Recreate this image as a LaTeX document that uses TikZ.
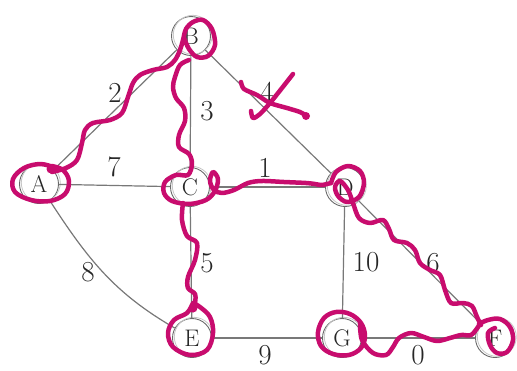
\documentclass[tikz,border=0pt]{standalone}
\begin{document}
\definecolor{edgegray}{RGB}{120,120,120}
\definecolor{ringgray}{RGB}{105,105,105}
\definecolor{ink}{RGB}{200,12,110}
\begin{tikzpicture}[x=1pt,y=-1pt,
  gnode/.style={circle,draw=ringgray,line width=0.9pt,minimum size=39pt,inner sep=0pt,
    font=\fontsize{24}{26}\selectfont,text=black!85},
  gedge/.style={draw=edgegray,line width=1.2pt},
  wlabel/.style={font=\fontsize{29}{31}\selectfont,text=black!85,inner sep=0pt},
  pen/.style={draw=ink,line width=4.5pt,line cap=round,line join=round},
  blob/.style={fill=ink}]
\useasboundingbox (0,0) rectangle (517,370);
% nodes
\node[gnode] (A) at (39,184) {A};
\node[gnode] (B) at (191,36) {B};
\node[gnode] (C) at (190,187) {C};
\node[gnode] (D) at (345,187) {D};
\node[gnode] (E) at (192,338) {E};
\node[gnode] (G) at (342,338) {G};
\node[gnode] (F) at (495,338) {F};
\foreach \n in {A,B,C,D,E,G,F}
  \draw[gray!45,line width=0.8pt] ([shift={(1.8,-1.2)}]\n.center) circle (19.5);
% edges
\draw[gedge] (A) -- (B);
\draw[gedge] (B) -- (C);
\draw[gedge] (B) -- (D);
\draw[gedge] (A) -- (C);
\draw[gedge] (C) -- (D);
\draw[gedge] (A) to[out=-57,in=150] (E);
\draw[gedge] (C) -- (E);
\draw[gedge] (D) -- (G);
\draw[gedge] (D) -- (F);
\draw[gedge] (E) -- (G);
\draw[gedge] (G) -- (F);
% weights
\node[wlabel] (w2) at (115,93) {2};
\node[wlabel] (w3) at (207,111) {3};
\node[wlabel] (w4) at (267,92) {4};
\node[wlabel] (w7) at (114,167) {7};
\node[wlabel] (w1) at (265,168) {1};
\node[wlabel] (w8) at (88,272) {8};
\node[wlabel] (w5) at (207,263) {5};
\node[wlabel] (w10) at (366,262) {10};
\node[wlabel] (w6) at (433,263) {6};
\node[wlabel] (w9) at (265,355) {9};
\node[wlabel] (w0) at (418,355) {0};
% ink annotations
% A loop
\draw[pen] plot[smooth,tension=0.6] coordinates {(53,167) (40,164) (24,168) (13,179) (15,192) (31,200) (50,201) (65,194) (69,181) (63,170) (52,166)};
\fill[blob] (51,169) circle (4.5);
% A-B path and B loop
\draw[pen] plot[smooth,tension=0.55] coordinates {(52,172) (66,168) (77,160) (82,143) (85,130) (93,123) (110,120) (122,113) (128,97) (133,83) (140,75) (153,70) (167,67) (175,60) (180,50) (183,40) (186,29) (193,22) (203,20) (212,29) (215,45) (208,56) (197,57) (189,49) (184,38)};
% B-C path and C loop and C-D path
\draw[pen] plot[smooth,tension=0.55] coordinates {(189,60) (180,65) (175,77) (173,87) (176,98) (184,108) (185,121) (179,135) (179,147) (189,154) (192,164) (188,175) (176,175) (165,182) (164,193) (172,201) (189,204) (206,200) (215,191) (218,179) (213,172) (210,181) (214,190) (222,193) (234,190) (248,183) (262,181) (284,182) (306,183) (315,184) (322,185) (331,183)};
% D loop and D-F path
\draw[pen] plot[smooth,tension=0.55] coordinates {(331,183) (336,172) (348,166) (360,171) (364,183) (359,197) (347,202) (338,196) (335,187) (340,181) (348,190) (353,203) (359,218) (370,223) (383,220) (389,229) (394,240) (407,243) (415,250) (420,263) (430,270) (440,275) (445,290) (451,303) (463,303) (472,306) (477,317) (481,325)};
% F loop
\draw[pen] plot[smooth,tension=0.6] coordinates {(479,324) (488,320) (500,319) (510,327) (513,340) (507,352) (497,353) (490,345) (488,333) (495,328)};
% G loop
\draw[pen] plot[smooth cycle,tension=0.6] coordinates {(350,314) (336,312) (324,318) (318,332) (321,346) (333,354) (349,355) (361,348) (365,336) (361,323)};
% G-F path
\draw[pen] plot[smooth,tension=0.55] coordinates {(360,324) (362,340) (373,353) (386,355) (393,347) (399,338) (411,333) (424,337) (437,341) (450,338) (461,335) (471,335) (478,327) (481,322)};
% C-E path
\draw[pen] plot[smooth,tension=0.55] coordinates {(183,203) (182,220) (187,236) (197,243) (195,260) (188,277) (188,288) (195,294) (195,303) (193,310)};
\fill[blob] (193,308) circle (4.5);
% E loop
\draw[pen] plot[smooth,tension=0.6] coordinates {(193,303) (187,313) (174,320) (168,333) (173,347) (190,355) (207,350) (213,333) (210,317) (200,307) (193,303)};
% cross on 4
\draw[pen] plot[smooth,tension=0.5] coordinates {(241,82) (244,89) (257,95) (270,103) (287,108) (300,112) (305,115)};
\fill[blob] (306,116) circle (4);
\draw[pen] plot[smooth,tension=0.5] coordinates {(293,74) (282,88) (270,103) (260,114) (253,118) (251,111)};
\end{tikzpicture}
\end{document}
